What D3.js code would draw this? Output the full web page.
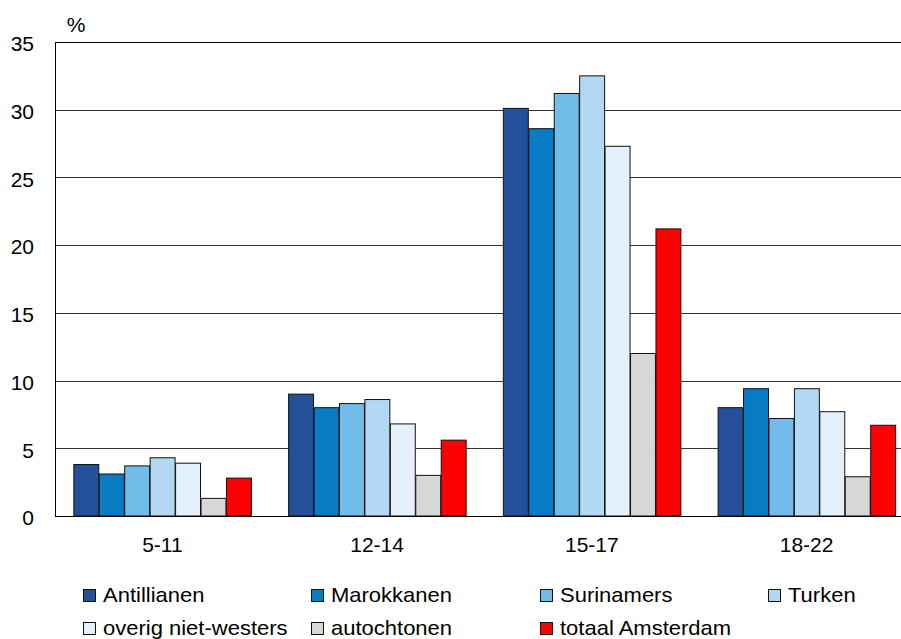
<!DOCTYPE html>
<html><head><meta charset="utf-8">
<script src="https://cdn.jsdelivr.net/npm/d3@7"></script>
<style>
html,body{margin:0;padding:0;background:#fff;}
svg{display:block;font-family:"Liberation Sans",Arial,Helvetica,sans-serif;}
</style></head>
<body>
<svg id="chart" width="901" height="639"></svg>
<script>
const categories = ["5-11","12-14","15-17","18-22"];
const seriesNames = ["Antillianen","Marokkanen","Surinamers","Turken","overig niet-westers","autochtonen","totaal Amsterdam"];
const seriesColors = ["#24509a","#077cc4","#72bcea","#b2d8f3","#e4f0fa","#d7d7d7","#ff0000"];
const antillianen = [3.8, 9.0, 30.1, 8.0];
const marokkanen  = [3.1, 8.0, 28.6, 9.4];
const surinamers  = [3.7, 8.3, 31.2, 7.2];
const turken      = [4.3, 8.6, 32.5, 9.4];
const overig      = [3.9, 6.8, 27.3, 7.7];
const autochtonen = [1.3, 3.0, 12.0, 2.9];
const totaal      = [2.8, 5.6, 21.2, 6.7];
const yTicks = [0,5,10,15,20,25,30,35];

const seriesValues = [antillianen, marokkanen, surinamers, turken, overig, autochtonen, totaal];

const svg = d3.select("#chart");
const mLeft = 55, mTop = 42, mBottom = 516, mRight = 914;

const y = d3.scaleLinear().domain([0,35]).range([mBottom, mTop]);
const x0 = d3.scaleBand().domain(categories).range([mLeft, mRight]).paddingInner(0.171).paddingOuter(0.0855);
const x1 = d3.scaleBand().domain(seriesNames).range([0, x0.bandwidth()]);

// gridlines
const grid = svg.append("g");
grid.selectAll("line").data(yTicks.filter(d => d > 0)).join("line")
  .attr("x1", mLeft).attr("x2", 901)
  .attr("y1", d => Math.round(y(d)) + 0.5).attr("y2", d => Math.round(y(d)) + 0.5)
  .attr("stroke", d => d === 35 ? "#000" : "#333").attr("stroke-width", 1);

// y axis labels
const yAxis = d3.axisLeft(y).tickValues(yTicks).tickSize(0).tickPadding(21).tickFormat(d3.format("d"));
const ya = svg.append("g").attr("transform", `translate(${mLeft},0)`).call(yAxis);
ya.select(".domain").remove();
ya.selectAll("text").attr("font-size", 21).attr("fill", "#000").attr("font-family", "Liberation Sans, Arial, sans-serif")
  .attr("dy", "0.42em");

// bars
const groups = svg.append("g").selectAll("g").data(categories).join("g")
  .attr("transform", d => `translate(${x0(d)},0)`);
groups.selectAll("rect").data((c, ci) => seriesNames.map((s, si) => ({s, si, v: seriesValues[si][ci]})))
  .join("rect")
  .attr("x", d => x1(d.s) + 0.5)
  .attr("y", d => y(d.v))
  .attr("width", x1.bandwidth() - 0.5)
  .attr("height", d => mBottom - y(d.v))
  .attr("fill", d => seriesColors[d.si])
  .attr("stroke", "#111").attr("stroke-width", 1);

// axes lines
svg.append("line").attr("x1", mLeft + 0.5).attr("x2", mLeft + 0.5).attr("y1", mTop).attr("y2", mBottom + 1).attr("stroke", "#000");
svg.append("line").attr("x1", mLeft).attr("x2", 901).attr("y1", mBottom + 0.5).attr("y2", mBottom + 0.5).attr("stroke", "#000");

// x labels
const xAxis = d3.axisBottom(x0).tickSize(0).tickPadding(21);
const xa = svg.append("g").attr("transform", `translate(0,${mBottom})`).call(xAxis);
xa.select(".domain").remove();
xa.selectAll("text").attr("font-size", 21).attr("fill", "#000").attr("font-family", "Liberation Sans, Arial, sans-serif");

// % label
svg.append("text").attr("x", 76).attr("y", 32).attr("text-anchor", "middle")
  .attr("font-size", 21).text("%");

// legend
const legendCols = [83, 311, 540, 768];
const legend = svg.append("g");
seriesNames.forEach((s, i) => {
  const row = Math.floor(i / 4), col = i % 4;
  const lx = legendCols[col], ly = 589 + row * 33;
  legend.append("rect").attr("x", lx + 0.5).attr("y", ly + 0.5).attr("width", 12).attr("height", 12)
    .attr("fill", seriesColors[i]).attr("stroke", "#111");
  legend.append("text")
    .attr("transform", `translate(${lx + 20},${ly + 13}) scale(1.1,1)`)
    .attr("font-size", 20).attr("fill", "#000").text(s);
});
</script>
</body></html>
